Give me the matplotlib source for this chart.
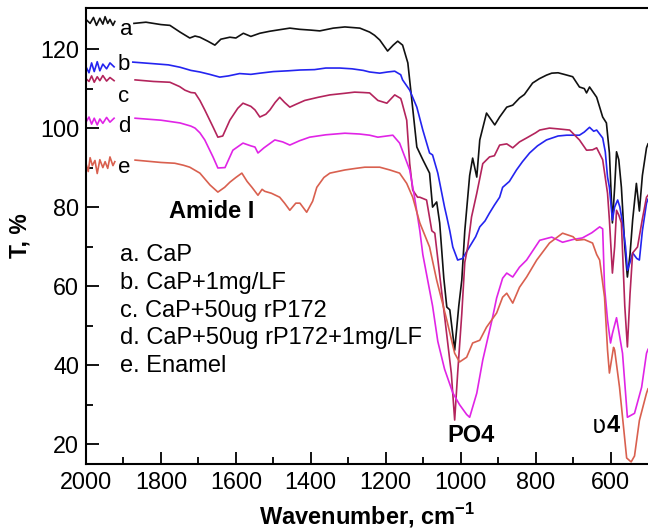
import matplotlib
matplotlib.use('Agg')
import matplotlib.pyplot as plt
import numpy as np

plt.rcParams['font.family'] = ['Liberation Sans', 'DejaVu Sans']
plt.rcParams['mathtext.fontset'] = 'custom'
plt.rcParams['mathtext.rm'] = 'Liberation Sans'
plt.rcParams['mathtext.bf'] = 'Liberation Sans:bold'

nan = np.nan

# ------------------------------------------------ data
wn_a = [2000, 1989, 1980, 1972, 1963, 1955, 1949, 1942, 1936, 1928, 1923, 1900,
        1872, 1840, 1800, 1776, 1749, 1723, 1709, 1696, 1675, 1656, 1640, 1616,
        1600, 1580, 1560, 1536, 1510, 1490, 1456, 1430, 1400, 1376, 1340, 1309,
        1269, 1243, 1230, 1216, 1195, 1180, 1168, 1155, 1141, 1128, 1117, 1101,
        1083, 1075, 1064, 1056, 1045, 1037, 1029, 1016, 1005, 997, 989, 976, 968,
        957, 949, 931, 909, 896, 877, 861, 843, 830, 808, 790, 771, 757, 740, 720,
        701, 683, 670, 664, 656, 637, 621, 611, 603, 595, 589, 584, 578, 571, 562,
        555, 548, 541, 531, 523, 515, 504, 500]
t_a = [127.5, 126.5, 128, 126, 127.8, 126.3, 128.2, 126.5, 127.5, 126, 127, nan,
       126.5, 126.8, 126.2, 126, 124.3, 122.8, 123.3, 123, 122, 121, 122.5, 123,
       122.8, 124, 123.2, 124, 124.5, 124.8, 125.3, 125, 124.8, 124.6, 125.3, 125.6,
       125.3, 124.3, 123.5, 122.3, 119.5, 121, 122, 121, 116.5, 105, 95.2, 92,
       88.6, 80, 81.3, 76, 62, 54.7, 54, 43.8, 55, 61.5, 74, 88, 92.4,
       87.6, 97, 103.8, 100.8, 102.8, 105.3, 105.8, 107.6, 108.5, 111.4, 112.5, 113.4, 113.9, 114, 113.5,
       113, 110.4, 110, 108.9, 110.4, 107.8, 102.8, 101.3, 93.7, 76, 85, 94, 92, 85, 70,
       62.3, 68, 76.7, 86, 79, 88, 95, 96]

wn_b = [2000, 1992, 1985, 1978, 1970, 1963, 1955, 1945, 1936, 1925, 1900,
        1875, 1820, 1780, 1749, 1720, 1696, 1670, 1643, 1620, 1590, 1560, 1536,
        1500, 1460, 1429, 1390, 1360, 1323, 1290, 1260, 1243, 1216, 1195, 1176,
        1160, 1155, 1136, 1117, 1101, 1083, 1075, 1061, 1043, 1037, 1029, 1021,
        1008, 995, 976, 960, 949, 935, 923, 910, 896, 888, 870, 851, 835, 816,
        795, 771, 740, 717, 683, 670, 656, 645, 637, 621, 614, 608, 603, 595,
        589, 581, 575, 568, 560, 555, 548, 541, 530, 523, 515, 504, 500]
t_b = [115.5, 114, 116.5, 114.3, 116.8, 114.5, 116.2, 115, 116.5, 115.5, nan,
       116.7, 116.3, 116, 115.4, 114.6, 114.2, 113.6, 112.9, 113.2, 113.8, 113.6, 113.9,
       114.3, 114.5, 114.7, 114.8, 115.2, 115.2, 115, 114.6, 114.2, 113.9, 114.2, 114.4,
       113.5, 112.2, 109.6, 105.3, 99.5, 93.7, 93.2, 88.6, 80, 77.5, 74, 69.9,
       66.6, 67, 70, 72.5, 75, 76.5, 78.5, 80.5, 82.5, 85, 86.5, 89.4, 91.5, 93.7,
       95.5, 97, 98, 98.2, 98.2, 99, 100.2, 99.2, 99.5, 97.5, 94, 87.6, 85, 76.7,
       80, 81.8, 80, 76, 70, 64, 66, 68.4, 67, 66.6, 74, 81, 82]

wn_c = [2000, 1992, 1985, 1978, 1970, 1963, 1955, 1945, 1936, 1925, 1900,
        1869, 1820, 1776, 1750, 1736, 1720, 1709, 1696, 1683, 1661, 1648, 1635,
        1616, 1595, 1581, 1560, 1549, 1536, 1520, 1509, 1495, 1483, 1470, 1456,
        1440, 1416, 1380, 1349, 1310, 1283, 1260, 1243, 1221, 1197, 1176, 1160,
        1157, 1144, 1136, 1128, 1115, 1109, 1091, 1077, 1069, 1055, 1040, 1025,
        1016, 1008, 997, 989, 981, 971, 957, 941, 923, 910, 896, 877, 861, 843,
        824, 800, 789, 763, 740, 709, 683, 664, 648, 637, 621, 608, 603, 595,
        589, 584, 578, 571, 562, 555, 548, 541, 528, 515, 504, 500]
t_c = [112.5, 111.8, 113.2, 111.6, 113, 112, 113.3, 111.9, 112.8, 112, nan,
       112.2, 111.8, 111.6, 110.5, 109.6, 109, 108.9, 107, 104.6, 100.3, 97.7, 98,
       102, 105, 106.3, 105.5, 104.6, 102.8, 103.5, 104.6, 106.5, 107.8, 106.5, 105.3,
       106, 107, 107.8, 108.4, 108.8, 109.1, 109, 108.9, 107, 106.3, 108.4, 107.5,
       106.6, 102, 91, 84.3, 82.5, 82.5, 81.8, 74, 73.4, 62, 50, 38,
       26.1, 38, 53, 66, 70, 77.5, 83.5, 91, 92.7, 93, 95.7, 96, 95, 96.5,
       97.5, 98.8, 99.5, 100, 99.8, 99.5, 97, 94.4, 94.5, 95, 92, 83.5, 76.7, 63.3,
       70, 79.2, 78, 76, 55, 44.6, 58, 68.4, 69.9, 77, 82.5, 83]

wn_d = [2000, 1992, 1985, 1978, 1970, 1963, 1955, 1945, 1936, 1925, 1900,
        1869, 1800, 1749, 1720, 1709, 1696, 1683, 1661, 1648, 1629, 1608, 1581,
        1560, 1549, 1541, 1525, 1496, 1475, 1456, 1430, 1403, 1360, 1309, 1270,
        1243, 1221, 1181, 1163, 1149, 1136, 1123, 1109, 1101, 1075, 1061, 1043,
        1021, 1003, 984, 976, 957, 941, 915, 904, 888, 877, 861, 843, 824, 789,
        757, 728, 700, 675, 650, 629, 621, 616, 608, 600, 595, 584, 568, 555,
        536, 517, 504, 500]
t_d = [101.5, 102.8, 101, 102.5, 100.8, 102.3, 101.2, 102.7, 101.5, 102.5, nan,
       102.5, 102, 101.3, 100.5, 100, 98.8, 97, 92.7, 89.9, 90, 94.4, 96.2,
       95.5, 95.2, 93.7, 95, 97, 96.5, 95.7, 96.8, 97.7, 98.3, 98.7, 98.5,
       98.2, 97.7, 98.2, 96.2, 92.7, 89.4, 82.5, 74, 68, 55, 46, 39,
       33, 30, 27.5, 26.8, 32.9, 41.3, 52, 57, 62, 63.3, 62.3, 64.8, 66.6, 71.6,
       72.4, 71.1, 71.8, 72.2, 73.5, 75, 74.5, 59.7, 51.4, 45.6, 48, 52, 43, 26.8,
       27.8, 34.4, 43, 44]

wn_e = [2000, 1994, 1989, 1983, 1976, 1970, 1963, 1955, 1949, 1942, 1936, 1928,
        1923, 1900, 1869, 1800, 1763, 1740, 1723, 1696, 1669, 1648, 1630, 1616,
        1600, 1584, 1570, 1557, 1541, 1530, 1523, 1505, 1483, 1470, 1456, 1440,
        1429, 1411, 1395, 1384, 1365, 1349, 1309, 1280, 1256, 1216, 1189, 1163,
        1144, 1128, 1109, 1083, 1064, 1037, 1016, 1003, 984, 968, 949, 931, 904,
        888, 877, 861, 843, 824, 797, 763, 728, 700, 691, 670, 648, 637, 629,
        616, 608, 603, 592, 589, 576, 557, 545, 536, 523, 504, 500]
t_e = [91, 89, 92.5, 90.5, 91.8, 88.5, 92, 90, 91.5, 89.8, 92.7, 90.5,
       91.5, nan, 91.9, 91.3, 91.1, 90.6, 90.1, 88.6, 85.6, 83.8, 85, 86.3,
       87.5, 88.6, 86.5, 85, 83, 84.5, 84, 83.5, 82.5, 81, 79.2, 81,
       81, 78.7, 81.5, 85, 87.5, 88.6, 89.4, 89.8, 90.1, 90.1, 89.4, 88.6,
       86, 82.5, 76, 69.9, 61.5, 51.4, 43, 40.8, 42, 45.6, 46.3, 49.6, 53.2,
       57.2, 58.2, 55.7, 59.7, 62.3, 66.6, 70.9, 73.4, 72.5, 71.6, 71.8, 70.9, 68, 66.6,
       57.2, 43.8, 38, 44.5, 43.8, 34.4, 16.5, 15.5, 17, 26, 32.9, 34]

curve_names = ['a', 'b', 'c', 'd', 'e']
legend_lines = ['a. CaP', 'b. CaP+1mg/LF', 'c. CaP+50ug rP172',
                'd. CaP+50ug rP172+1mg/LF', 'e. Enamel']

# ------------------------------------------------------------------ plot
fig = plt.figure(figsize=(6.48, 5.32), dpi=100)
ax = fig.add_axes([0.1327, 0.128, 0.8673, 0.857])

series = [(wn_a, t_a, '#111111'), (wn_b, t_b, '#2424f0'), (wn_c, t_c, '#b3245c'),
          (wn_d, t_d, '#e024e6'), (wn_e, t_e, '#d9604f')]
for wn, t, col in series:
    ax.plot(wn, t, color=col, lw=1.2)

ax.set_xlim(2000, 500)
ax.set_ylim(15, 130.4)
ax.set_xticks([2000, 1800, 1600, 1400, 1200, 1000, 800, 600])
ax.set_xticks(np.arange(1900, 500, -200), minor=True)
ax.set_yticks([20, 40, 60, 80, 100, 120])
ax.set_yticks([30, 50, 70, 90, 110], minor=True)
ax.tick_params(which='major', direction='in', length=9, width=1.3, labelsize=16.8, pad=5)
ax.tick_params(which='minor', direction='in', length=5, width=1.3)
for s in ax.spines.values():
    s.set_linewidth(1.5)
ax.spines['right'].set_visible(False)

ax.set_xlabel('Wavenumber, cm$^{\\mathbf{-1}}$', fontsize=17, fontweight='bold', labelpad=5)
ax.set_ylabel('T, %', fontsize=16.5, fontweight='bold', labelpad=6)

# curve letters
letter_pos = [(1893, 125), (1899, 116), (1899, 108), (1899, 100.5), (1899, 90)]
for name, (x, y) in zip(curve_names, letter_pos):
    ax.text(x, y, name, fontsize=16, ha='center', va='center')

ax.text(1664, 79, 'Amide I', fontsize=17, fontweight='bold', ha='center', va='center')
ax.text(972, 22.3, 'PO4', fontsize=17, fontweight='bold', ha='center', va='center')
ax.text(632, 24.6, 'ʋ', fontsize=17, ha='center', va='center', family='DejaVu Sans')
ax.text(594, 24.6, '4', fontsize=17, fontweight='bold', ha='center', va='center')

for i, line in enumerate(legend_lines):
    ax.text(1910, 67.8 - i * 7.0, line, fontsize=17, ha='left', va='center')

fig.savefig('out.png', dpi=100)
